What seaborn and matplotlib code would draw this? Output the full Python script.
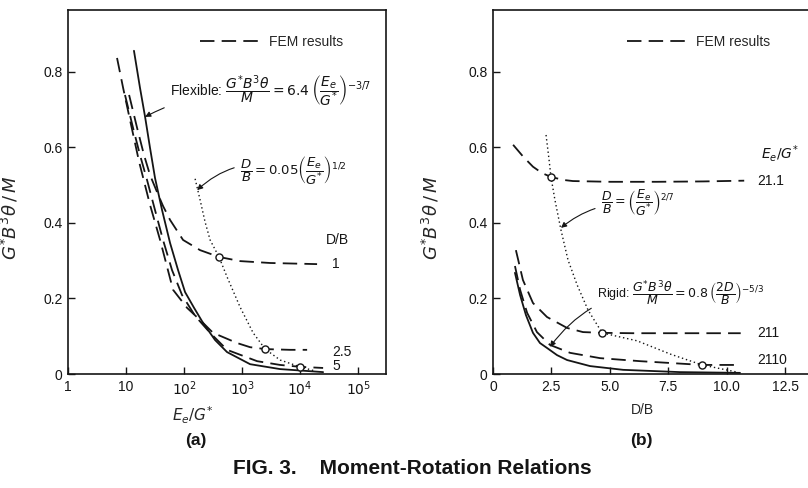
import matplotlib
matplotlib.use("Agg")
import matplotlib.pyplot as plt
import seaborn as sns

# ---------------- Panel (a): G*B^3θ/M versus E_e/G* ----------------
flex_x = [13.7, 17.4, 21.3, 25.9, 31.6, 41.8, 57.4, 78.9, 104, 149, 213, 342, 551, 1374, 4520, 24900]
flex_y = [0.856, 0.758, 0.681, 0.599, 0.519, 0.434, 0.347, 0.275, 0.217, 0.175, 0.135, 0.090, 0.058, 0.026, 0.013, 0.005]

fem_db1_x = [11.3, 15.5, 20.4, 25.9, 34.2, 43.4, 57.4, 96.1, 189, 400, 925, 3040, 19600]
fem_db1_y = [0.739, 0.652, 0.580, 0.527, 0.482, 0.445, 0.408, 0.355, 0.328, 0.310, 0.299, 0.294, 0.291]

fem_db25_x = [7.0, 8.9, 11.7, 16.8, 25.9, 38.6, 64.6, 113, 204, 316, 820, 1374, 2500, 6725, 13200]
fem_db25_y = [0.837, 0.758, 0.673, 0.562, 0.448, 0.355, 0.223, 0.175, 0.138, 0.109, 0.082, 0.071, 0.066, 0.064, 0.064]

fem_db5_x = [9.6, 13.2, 17.4, 23.0, 31.6, 43.4, 62.1, 92.4, 155, 281, 551, 1814, 4520, 10000, 24900]
fem_db5_y = [0.739, 0.652, 0.580, 0.514, 0.434, 0.355, 0.275, 0.209, 0.154, 0.109, 0.064, 0.034, 0.024, 0.019, 0.016]

embed_a_x = [155, 189, 230, 281, 400, 551, 925, 1549, 2500, 4520, 10000, 18100]
embed_a_y = [0.517, 0.461, 0.403, 0.355, 0.310, 0.257, 0.177, 0.109, 0.066, 0.037, 0.019, 0.008]

pts_a_x = [400, 2500, 10000]
pts_a_y = [0.310, 0.066, 0.019]

db_labels = ["1", "2.5", "5"]
db_label_y = [0.291, 0.058, 0.020]

a_xticks = [1, 10, 100, 1000, 10000, 100000]
a_xticklabels = ["1", "10", r"$10^2$", r"$10^3$", r"$10^4$", r"$10^5$"]

# ---------------- Panel (b): G*B^3θ/M versus D/B ----------------
rigid_x = [0.94, 1.16, 1.41, 1.71, 2.01, 2.31, 2.74, 3.17, 4.15, 5.57, 8.0, 10.57]
rigid_y = [0.268, 0.209, 0.156, 0.109, 0.082, 0.069, 0.050, 0.037, 0.021, 0.011, 0.005, 0.003]

fem_e21_x = [0.86, 1.3, 1.71, 2.1, 2.48, 3.0, 3.42, 5.0, 7.0, 9.0, 10.75]
fem_e21_y = [0.607, 0.575, 0.549, 0.532, 0.522, 0.514, 0.511, 0.509, 0.509, 0.510, 0.512]

fem_e211_x = [0.98, 1.28, 1.71, 2.31, 3.17, 3.85, 4.67, 6.0, 8.0, 10.6]
fem_e211_y = [0.328, 0.249, 0.188, 0.151, 0.122, 0.111, 0.109, 0.108, 0.108, 0.108]

fem_e2110_x = [0.94, 1.16, 1.46, 1.88, 2.44, 3.30, 4.58, 6.29, 8.95, 10.57]
fem_e2110_y = [0.286, 0.223, 0.162, 0.111, 0.077, 0.056, 0.042, 0.034, 0.024, 0.024]

embed_b_x = [2.27, 2.40, 2.48, 2.65, 2.91, 3.21, 3.60, 4.07, 4.67, 5.44, 6.16, 7.62, 8.95, 10.45]
embed_b_y = [0.633, 0.567, 0.522, 0.461, 0.381, 0.302, 0.236, 0.169, 0.109, 0.098, 0.088, 0.052, 0.024, 0.005]

pts_b_x = [2.48, 4.67, 8.95]
pts_b_y = [0.522, 0.109, 0.024]

ratio_labels = ["21.1", "211", "2110"]
ratio_label_y = [0.512, 0.108, 0.037]

b_xticks = [0, 2.5, 5.0, 7.5, 10.0, 12.5]
b_xticklabels = ["0", "2.5", "5.0", "7.5", "10.0", "12.5"]

y_ticks = [0, 0.2, 0.4, 0.6, 0.8]
y_ticklabels = ["0", "0.2", "0.4", "0.6", "0.8"]

# ---------------- styling ----------------
sns.set_style("ticks")
plt.rcParams["font.family"] = ["Liberation Sans", "DejaVu Sans"]
plt.rcParams["mathtext.fontset"] = "dejavusans"

INK = "#151515"
DASH = (0, (8, 4))
DOT = (0, (1, 2))

fig = plt.figure(figsize=(8.08, 4.88), dpi=100)
W, H = 808, 488
ax_a = fig.add_axes([68 / W, 1 - 374 / H, 318 / W, 364 / H])
ax_b = fig.add_axes([493 / W, 1 - 374 / H, 315 / W, 364 / H])

ytop = 0.964


def solid(ax, x, y):
    sns.lineplot(x=x, y=y, ax=ax, color=INK, lw=1.3, sort=False, estimator=None)


def dashed(ax, x, y, label=None):
    sns.lineplot(x=x, y=y, ax=ax, color=INK, lw=1.3, linestyle=DASH,
                 sort=False, estimator=None, label=label)


def dotted(ax, x, y):
    sns.lineplot(x=x, y=y, ax=ax, color=INK, lw=1.0, linestyle=DOT,
                 sort=False, estimator=None)


def circles(ax, x, y):
    sns.scatterplot(x=x, y=y, ax=ax, marker="o", s=26, color="white",
                    edgecolor=INK, linewidth=1.0, zorder=5)


def frame(ax):
    for s in ax.spines.values():
        s.set_linewidth(1.2)
        s.set_color(INK)
    ax.tick_params(direction="in", length=5, width=1.0, colors=INK,
                   labelsize=10, pad=4)
    ax.tick_params(which="minor", length=0)
    ax.set_ylim(0, ytop)
    ax.set_yticks(y_ticks)
    ax.set_yticklabels(y_ticklabels)


arrow = dict(arrowstyle="-|>", color=INK, lw=0.8, mutation_scale=8,
             shrinkA=2, shrinkB=0)
YLABEL = r"$G^{*}B^{3}\theta\,/\,M$"

# ----- panel (a) -----
ax = ax_a
ax.set_xscale("log")
solid(ax, flex_x, flex_y)
dashed(ax, fem_db1_x, fem_db1_y, label="FEM results")
dashed(ax, fem_db25_x, fem_db25_y)
dashed(ax, fem_db5_x, fem_db5_y)
dotted(ax, embed_a_x, embed_a_y)
circles(ax, pts_a_x, pts_a_y)
frame(ax)
ax.set_xlim(1, 10 ** 5.48)
ax.set_xticks(a_xticks)
ax.set_xticklabels(a_xticklabels)
ax.set_xlabel(r"$E_e/G^{*}$", fontsize=11)
ax.xaxis.set_label_coords(0.393, -0.085)
ax.set_ylabel(YLABEL, fontsize=13)
ax.yaxis.set_label_coords(-0.15, 0.43)
ax.legend(loc="center left", bbox_to_anchor=(0.415, 0.912), frameon=False,
          handlelength=4.2, handletextpad=0.8, borderpad=0, borderaxespad=0,
          fontsize=10)

ax.annotate(r"Flexible: $\dfrac{G^{*}B^{3}\theta}{M}=6.4\,\left(\dfrac{E_e}{G^{*}}\right)^{-3/7}$",
            xy=(21.3, 0.681), xytext=(57.4, 0.747), fontsize=10, va="center",
            ha="left", color=INK,
            arrowprops=dict(arrow, connectionstyle="arc3,rad=0.15"))
ax.annotate(r"$\dfrac{D}{B}=0.05\left(\dfrac{E_e}{G^{*}}\right)^{1/2}$",
            xy=(168, 0.487), xytext=(925, 0.540), fontsize=9.5, va="center",
            ha="left", color=INK,
            arrowprops=dict(arrow, connectionstyle="arc3,rad=0.3"))
ax.text(43400, 0.355, "D/B", fontsize=10, ha="center", va="center", color=INK)
for lab, yy in zip(db_labels, db_label_y):
    ax.text(36000, yy, lab, fontsize=10, ha="left", va="center", color=INK)

# ----- panel (b) -----
ax = ax_b
solid(ax, rigid_x, rigid_y)
dashed(ax, fem_e21_x, fem_e21_y, label="FEM results")
dashed(ax, fem_e211_x, fem_e211_y)
dashed(ax, fem_e2110_x, fem_e2110_y)
dotted(ax, embed_b_x, embed_b_y)
circles(ax, pts_b_x, pts_b_y)
frame(ax)
ax.spines["right"].set_visible(False)
ax.set_xlim(0, 13.48)
ax.set_xticks(b_xticks)
ax.set_xticklabels(b_xticklabels)
ax.set_xlabel("D/B", fontsize=10)
ax.xaxis.set_label_coords(0.473, -0.08)
ax.set_ylabel(YLABEL, fontsize=13)
ax.yaxis.set_label_coords(-0.165, 0.43)
ax.legend(loc="center left", bbox_to_anchor=(0.425, 0.912), frameon=False,
          handlelength=4.2, handletextpad=0.8, borderpad=0, borderaxespad=0,
          fontsize=10)

ax.annotate(r"$\dfrac{D}{B}=\left(\dfrac{E_e}{G^{*}}\right)^{2/7}$",
            xy=(2.91, 0.387), xytext=(4.62, 0.452), fontsize=9, va="center",
            ha="left", color=INK,
            arrowprops=dict(arrow, connectionstyle="arc3,rad=0.2"))
ax.annotate(r"Rigid: $\dfrac{G^{*}B^{3}\theta}{M}=0.8\,\left(\dfrac{2D}{B}\right)^{-5/3}$",
            xy=(2.44, 0.072), xytext=(4.45, 0.215), fontsize=9, va="center",
            ha="left", color=INK,
            arrowprops=dict(arrow, connectionstyle="arc3,rad=0.3"))
ax.text(12.3, 0.585, r"$E_e/G^{*}$", fontsize=10, ha="center", va="center", color=INK)
for lab, yy in zip(ratio_labels, ratio_label_y):
    ax.text(11.3, yy, lab, fontsize=10, ha="left", va="center", color=INK)

# ----- captions -----
fig.text(196 / W, 1 - 440 / H, "(a)", fontsize=12.5, fontweight="bold",
         ha="center", va="center", color=INK)
fig.text(641 / W, 1 - 440 / H, "(b)", fontsize=12.5, fontweight="bold",
         ha="center", va="center", color=INK)
fig.text(412 / W, 1 - 469 / H, "FIG. 3.    Moment-Rotation Relations",
         fontsize=15, fontweight="bold", ha="center", va="center", color=INK)

fig.savefig("out.png", dpi=100)
